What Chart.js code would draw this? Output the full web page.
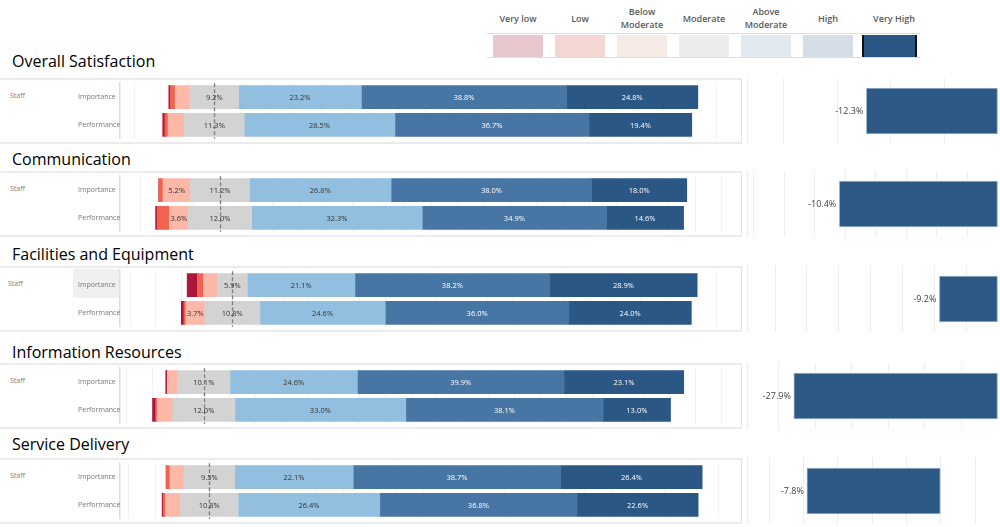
<!DOCTYPE html>
<html>
<head>
<meta charset="utf-8">
<script src="https://cdn.jsdelivr.net/npm/chart.js@4.4.0/dist/chart.umd.min.js"></script>
<style>
  html, body { margin:0; padding:0; }
  body { width:1000px; height:527px; background:#fff; position:relative; overflow:hidden; font-family:'Open Sans', sans-serif; }
  .title { position:absolute; left:12px; font-size:16px; line-height:22px; color:#000; white-space:nowrap; }
  .group { position:absolute; left:10px; font-size:7px; color:#808080; line-height:10px; }
  .pane { position:absolute; left:0; width:742px; border-top:2px solid #ebebeb; border-bottom:2px solid #ebebeb; border-right:1px solid #e3e3e3; box-sizing:border-box; }
  canvas { position:absolute; }
  .hl { position:absolute; background:#f0f0f0; }
  .lg-label { position:absolute; top:4px; height:28px; width:62px; display:flex; align-items:center; justify-content:center; text-align:center; font-size:9px; font-weight:600; color:#5a5a5a; line-height:13px; }
  .lg-sw { position:absolute; top:35px; height:22px; box-sizing:border-box; }
  .lg-line { position:absolute; left:487px; width:433px; height:1px; background:#dedede; }
</style>
</head>
<body>
<script>
// ---------------- DATA ----------------
const sectionNames = ['Overall Satisfaction', 'Communication', 'Facilities and Equipment', 'Information Resources', 'Service Delivery'];
const groupName = 'Staff';
const rowNames = ['Importance', 'Performance'];
const legendLabels = ['Very low', 'Low', 'Below|Moderate', 'Moderate', 'Above|Moderate', 'High', 'Very High'];

// values per section: [Importance, Performance] pairs, in section order (%)
const veryLow       = [0.3, 0.4,   0.0, 0.3,   2.0, 0.5,   0.3, 0.6,   0.0, 0.2];
const low           = [0.9, 0.6,   0.8, 2.3,   1.2, 0.4,   0.0, 0.3,   0.7, 0.4];
const belowModerate = [2.8, 3.1,   5.2, 3.6,   2.7, 3.7,   2.0, 3.0,   2.6, 2.8];
const moderate      = [9.2, 11.3,  11.2, 12.0, 5.9, 10.8,  10.1, 12.0, 9.5, 10.8];
const aboveModerate = [23.2, 28.5, 26.8, 32.3, 21.1, 24.6, 24.6, 33.0, 22.1, 26.4];
const high          = [38.8, 36.7, 38.0, 34.9, 38.2, 36.0, 39.9, 38.1, 38.7, 36.8];
const veryHigh      = [24.8, 19.4, 18.0, 14.6, 28.9, 24.0, 23.1, 13.0, 26.4, 22.6];
// gap (right-hand bars) per section (%)
const gapValues = [-12.3, -10.4, -9.2, -27.9, -7.8];

// ---------------- LAYOUT / STYLE ----------------
const paneTop = [79, 172, 267, 364, 459];
const titleTop = [50, 148, 243, 341, 433];
const leftRange = [[-17.83, 99.75], [-18.94, 98.86], [-22.02, 99.94], [-16.18, 103.9], [-16.66, 99.38]];
const rightRange = [[-23.45, 0, 5], [-16.45, 0, 2], [-39.4, 0, 5], [-34.3, 0, 5], [-11.29, 3.33, 2]];
const segColors = {
  veryLow: '#ab173c', low: '#ef6350', below: '#fdb8a8', moderate: '#d3d3d3',
  above: '#92bfdf', high: '#4876a4', veryHigh: '#2b5784'
};
const legendColors = ['#e8c7ce', '#f4d6d3', '#f6eae7', '#ececec', '#e1e8ef', '#d5dde6', '#2b5784'];
const FONT = "'Open Sans', sans-serif";

// ---------------- LEGEND ----------------
function el(tag, cls, style, html) {
  const e = document.createElement(tag);
  if (cls) e.className = cls;
  if (style) Object.assign(e.style, style);
  if (html !== undefined) e.innerHTML = html;
  document.body.appendChild(e);
  return e;
}
el('div', 'lg-line', { top: '33px' });
el('div', 'lg-line', { top: '57px' });
legendLabels.forEach((lab, i) => {
  const left = 493 + i * 62;
  const isLast = i === legendLabels.length - 1;
  el('div', 'lg-label', { left: (left - 6 + (isLast ? 4 : 0)) + 'px' }, lab.split('|').join('<br>'));
  el('div', 'lg-sw', {
    left: (isLast ? 862 : left) + 'px', width: (isLast ? 55 : 50) + 'px',
    background: legendColors[i],
    borderLeft: isLast ? '2px solid #111' : 'none', borderRight: isLast ? '2px solid #111' : 'none'
  });
});

// ---------------- PLUGINS ----------------
const gridTicks = (step) => (scale) => {
  const t = [];
  const start = Math.ceil(scale.min / step) * step;
  for (let v = start; v <= scale.max + 1e-9; v += step) t.push({ value: Math.round(v * 1000) / 1000 });
  scale.ticks = t;
};

const zeroLine = {
  id: 'zeroLine',
  afterDatasetsDraw(chart) {
    const { ctx, chartArea } = chart;
    const x = Math.round(chart.scales.x.getPixelForValue(0)) + 0.5;
    ctx.save();
    ctx.strokeStyle = '#7d7d7d';
    ctx.lineWidth = 1.3;
    ctx.setLineDash([4, 2]);
    ctx.beginPath();
    ctx.moveTo(x, chartArea.top);
    ctx.lineTo(x, chartArea.bottom);
    ctx.stroke();
    ctx.restore();
  }
};

const segLabels = {
  id: 'segLabels',
  afterDatasetsDraw(chart) {
    const ctx = chart.ctx;
    const xs = chart.scales.x;
    ctx.save();
    ctx.font = '7.5px ' + FONT;
    ctx.textAlign = 'center';
    ctx.textBaseline = 'middle';
    chart.data.datasets.forEach((ds, di) => {
      if (!ds.labelVals) return;
      const meta = chart.getDatasetMeta(di);
      meta.data.forEach((bar, i) => {
        const v = ds.labelVals[i];
        if (v < 3.5) return;
        const cx = ds.centerAtZero ? xs.getPixelForValue(0) : (bar.x + bar.base) / 2;
        ctx.fillStyle = ds.labelColor;
        ctx.fillText(v.toFixed(1) + '%', cx, bar.y + 0.5);
      });
    });
    ctx.restore();
  }
};

const gapLabel = {
  id: 'gapLabel',
  afterDatasetsDraw(chart) {
    const ctx = chart.ctx;
    const meta = chart.getDatasetMeta(0);
    ctx.save();
    ctx.font = '9px ' + FONT;
    ctx.fillStyle = '#444';
    ctx.textAlign = 'right';
    ctx.textBaseline = 'middle';
    meta.data.forEach((bar, i) => {
      const v = chart.data.datasets[0].data[i];
      ctx.fillText(v.toFixed(1) + '%', Math.min(bar.x, bar.base) - 3, bar.y);
    });
    ctx.restore();
  }
};

// ---------------- SECTIONS ----------------
sectionNames.forEach((name, s) => {
  const top = paneTop[s];
  el('div', 'title', { top: titleTop[s] + 'px' }, name);
  el('div', 'pane', { top: (top - 1) + 'px', height: '66px' });
  if (s === 2) el('div', 'hl', { left: '73px', top: (top + 2) + 'px', width: '47px', height: '29px' });
  el('div', 'group', { left: (s === 2 ? 8 : 10) + 'px', top: (top + 12) + 'px' }, groupName);

  const idx = [2 * s, 2 * s + 1];
  const pick = (arr, sign) => idx.map(i => sign * arr[i]);
  const pickHalf = (arr, sign) => idx.map(i => sign * arr[i] / 2);

  const datasets = [
    { label: 'Moderate', data: pickHalf(moderate, -1), backgroundColor: segColors.moderate },
    { label: 'Below Moderate', data: pick(belowModerate, -1), backgroundColor: segColors.below,
      labelVals: pick(belowModerate, 1), labelColor: '#333' },
    { label: 'Low', data: pick(low, -1), backgroundColor: segColors.low },
    { label: 'Very low', data: pick(veryLow, -1), backgroundColor: segColors.veryLow },
    { label: 'Moderate', data: pickHalf(moderate, 1), backgroundColor: segColors.moderate,
      labelVals: pick(moderate, 1), labelColor: '#333', centerAtZero: true },
    { label: 'Above Moderate', data: pick(aboveModerate, 1), backgroundColor: segColors.above,
      labelVals: pick(aboveModerate, 1), labelColor: '#333' },
    { label: 'High', data: pick(high, 1), backgroundColor: segColors.high,
      labelVals: pick(high, 1), labelColor: '#fff' },
    { label: 'Very High', data: pick(veryHigh, 1), backgroundColor: segColors.veryHigh,
      labelVals: pick(veryHigh, 1), labelColor: '#fff' }
  ];

  const c1 = el('canvas', null, { left: '0px', top: top + 'px' });
  c1.width = 742; c1.height = 64;
  new Chart(c1, {
    type: 'bar',
    data: { labels: rowNames, datasets },
    options: {
      indexAxis: 'y', responsive: false, animation: false,
      layout: { padding: { left: 78, right: 0, top: 0, bottom: 0 } },
      datasets: { bar: { barThickness: 23, borderWidth: 0 } },
      plugins: { legend: { display: false }, tooltip: { enabled: false } },
      scales: {
        x: {
          type: 'linear', stacked: true, min: leftRange[s][0], max: leftRange[s][1],
          afterBuildTicks: gridTicks(5),
          ticks: { display: false },
          grid: { color: '#f2f2f2', lineWidth: 1, drawTicks: false },
          border: { display: false }
        },
        y: {
          stacked: true,
          afterFit: (sc) => { sc.width = 42; },
          ticks: { crossAlign: 'far', padding: 0, color: '#777', font: { family: FONT, size: 7 } },
          grid: { display: false, drawTicks: false },
          border: { display: true, color: '#dedede', width: 1.5 }
        }
      }
    },
    plugins: [zeroLine, segLabels]
  });

  const c2 = el('canvas', null, { left: '747px', top: (top - 1) + 'px' });
  c2.width = 251; c2.height = 66;
  new Chart(c2, {
    type: 'bar',
    data: { labels: [groupName], datasets: [{ label: 'Gap', data: [gapValues[s]],
      backgroundColor: '#2c5886', borderColor: '#9fb4cb', borderWidth: 1, borderSkipped: false, barThickness: 46 }] },
    options: {
      indexAxis: 'y', responsive: false, animation: false,
      layout: { padding: 0 },
      plugins: { legend: { display: false }, tooltip: { enabled: false } },
      scales: {
        x: {
          type: 'linear', min: rightRange[s][0], max: rightRange[s][1],
          afterBuildTicks: gridTicks(rightRange[s][2]),
          ticks: { display: false },
          grid: { color: '#eeeeee', lineWidth: 1, drawTicks: false },
          border: { display: false }
        },
        y: {
          afterFit: (sc) => { sc.width = 0; },
          ticks: { display: false },
          grid: { display: false, drawTicks: false },
          border: { display: true, color: '#dedede', width: 1.5 }
        }
      }
    },
    plugins: [gapLabel]
  });
});
</script>
</body>
</html>
